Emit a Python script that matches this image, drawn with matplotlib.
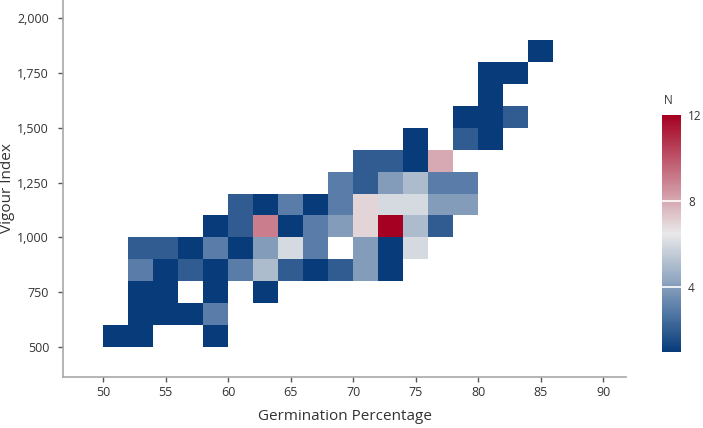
import numpy as np
import matplotlib
matplotlib.use("Agg")
import matplotlib.pyplot as plt
from matplotlib.colors import LinearSegmentedColormap, Normalize
from matplotlib.ticker import FuncFormatter

plt.rcParams['font.family'] = ['Open Sans', 'DejaVu Sans']

# Bin geometry (germination % bins of 2, vigour index bins of 100)
x_edges = np.arange(50, 90, 2)
y_edges = np.arange(500, 2000, 100)

# Non-empty cells: left edge of germination bin, lower edge of vigour bin, count
cell_x = [50, 52, 58,
          52, 54, 56, 58,
          52, 54, 58, 62,
          52, 54, 56, 58, 60, 62, 64, 66, 68, 70, 72,
          52, 54, 56, 58, 60, 62, 64, 66, 70, 72, 74,
          58, 60, 62, 64, 66, 68, 70, 72, 74, 76,
          60, 62, 64, 66, 68, 70, 72, 74, 76, 78,
          68, 70, 72, 74, 76, 78,
          70, 72, 74, 76,
          74, 78, 80,
          78, 80, 82,
          80,
          80, 82,
          84]
cell_y = [500, 500, 500,
          600, 600, 600, 600,
          700, 700, 700, 700,
          800, 800, 800, 800, 800, 800, 800, 800, 800, 800, 800,
          900, 900, 900, 900, 900, 900, 900, 900, 900, 900, 900,
          1000, 1000, 1000, 1000, 1000, 1000, 1000, 1000, 1000, 1000,
          1100, 1100, 1100, 1100, 1100, 1100, 1100, 1100, 1100, 1100,
          1200, 1200, 1200, 1200, 1200, 1200,
          1300, 1300, 1300, 1300,
          1400, 1400, 1400,
          1500, 1500, 1500,
          1600,
          1700, 1700,
          1800]
cell_n = [1, 1, 1,
          1, 1, 1, 3,
          1, 1, 1, 1,
          3, 1, 2, 1, 3, 5, 2, 1, 2, 4, 1,
          2, 2, 1, 3, 1, 4, 6, 3, 4, 1, 6,
          1, 2, 9, 1, 3, 4, 7, 12, 5, 2,
          2, 1, 3, 1, 3, 7, 6, 6, 4, 4,
          3, 2, 4, 5, 3, 3,
          2, 2, 1, 8,
          1, 2, 1,
          1, 1, 2,
          1,
          1, 1,
          1]

x_ticks = [50, 55, 60, 65, 70, 75, 80, 85, 90]
y_ticks = [500, 750, 1000, 1250, 1500, 1750, 2000]
cbar_ticks = [4, 8, 12]

# Build grid
grid = np.full((len(y_edges) - 1, len(x_edges) - 1), np.nan)
for xv, yv, nv in zip(cell_x, cell_y, cell_n):
    i = int(np.searchsorted(y_edges, yv, side='right') - 1)
    j = int(np.searchsorted(x_edges, xv, side='right') - 1)
    grid[i, j] = nv

cmap = LinearSegmentedColormap.from_list(
    'bwr_custom',
    [(0.0, '#073b7a'), (2 / 11, '#5a7ea8'), (0.5, '#e9e9e9'), (1.0, '#a50021')])
norm = Normalize(vmin=1, vmax=12)

fig = plt.figure(figsize=(7.03, 4.28), dpi=100)
ax = fig.add_axes([63 / 703, 1 - 377 / 428, (626 - 63) / 703, 377 / 428])
mesh = ax.pcolormesh(x_edges, y_edges, grid, cmap=cmap, norm=norm,
                     edgecolors='none', linewidth=0, antialiased=False)

ax.set_xlim(46.8, 91.8)
ax.set_ylim(362, 2084)
ax.set_xticks(x_ticks)
ax.set_yticks(y_ticks)
ax.yaxis.set_major_formatter(FuncFormatter(lambda v, p: f"{v:,.0f}"))
for s in ['top', 'right']:
    ax.spines[s].set_visible(False)
for s in ['left', 'bottom']:
    ax.spines[s].set_color('#a8a8a8')
    ax.spines[s].set_linewidth(1.2)
ax.tick_params(axis='both', direction='out', length=3.5, width=1, color='#555555',
               labelsize=9, labelcolor='#333333')
ax.tick_params(axis='x', pad=3)
ax.tick_params(axis='y', pad=6.5)
ax.set_xlabel('Germination Percentage', fontsize=11, color='#333333', labelpad=7)
ax.set_ylabel('Vigour Index', fontsize=11, color='#333333')
ax.yaxis.set_label_coords(-48 / 563, 0.5)

cax = fig.add_axes([662 / 703, 1 - 352 / 428, 19 / 703, (352 - 115) / 428])
cb = fig.colorbar(mesh, cax=cax, ticks=cbar_ticks)
cb.outline.set_visible(False)
cax.tick_params(length=0, labelsize=8.5, labelcolor='#333333', pad=5)
for t in cbar_ticks[:-1]:
    cax.axhline(t, color='white', linewidth=1.2)
cax.text(0.1, 1.035, 'N', transform=cax.transAxes, fontsize=8.5,
         color='#333333', ha='left', va='bottom')

fig.savefig('out.png', dpi=100)
